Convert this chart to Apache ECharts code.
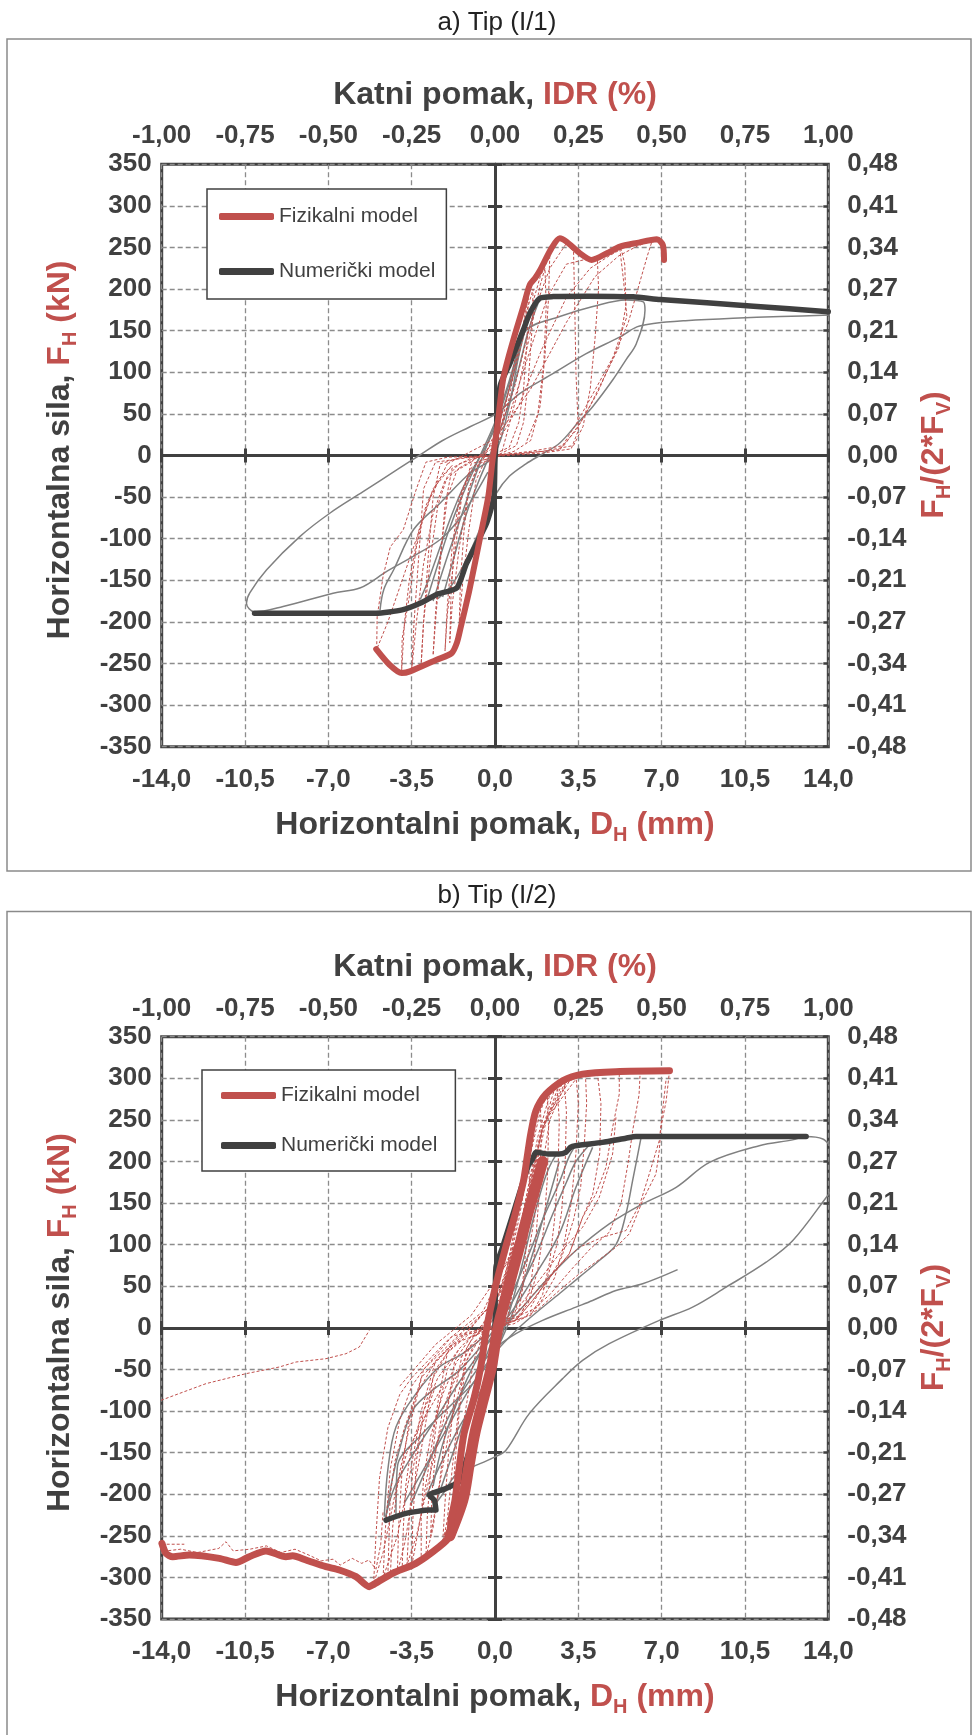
<!DOCTYPE html>
<html>
<head>
<meta charset="utf-8">
<title>Tip (I/1) i Tip (I/2)</title>
<script src="https://cdn.jsdelivr.net/npm/echarts@6.0.0/dist/echarts.min.js"></script>
<style>
html, body { margin: 0; padding: 0; background: #fff; }
#container { width: 978px; height: 1735px; }
</style>
</head>
<body>
<div id="container"></div>
<script>
var RED = '#C0504D', DARK = '#404040', GRAY = '#808080', GRIDC = '#8C8C8C';
var FONT = '"Liberation Sans", Arial, sans-serif';

// tick labels
var xTickLabels = ['-14,0', '-10,5', '-7,0', '-3,5', '0,0', '3,5', '7,0', '10,5', '14,0'];
var idrTickLabels = ['-1,00', '-0,75', '-0,50', '-0,25', '0,00', '0,25', '0,50', '0,75', '1,00'];
var ratioTickLabels = ['-0,48', '-0,41', '-0,34', '-0,27', '-0,21', '-0,14', '-0,07', '0,00',
  '0,07', '0,14', '0,21', '0,27', '0,34', '0,41', '0,48'];
var panelTitles = ['a) Tip (I/1)', 'b) Tip (I/2)'];
var legendNames = ['Fizikalni model', 'Numerički model'];

// ---- panel a : Tip (I/1) ----  [D_H mm, F_H kN]
var fizEnvA = [[-4.99,-232.7],[-4.43,-251.5],[-3.92,-261.5],[-3.57,-259.5],[-2.45,-245.5],[-1.82,-237.5],[-1.6,-225],[-1.46,-209],[-1.1,-165],[-0.84,-129],[-0.55,-88],[-0.28,-49],[-0.1,-5],[0.1,35],[0.35,93],[0.77,139],[1.19,179],[1.46,205],[1.68,213],[1.88,222],[2.37,249],[2.72,261],[3.0,257],[3.57,243],[4.06,235],[4.7,243],[5.25,251],[5.96,255.5],[6.8,260],[7.05,253],[7.1,235]];
var numEnvA = [[-10.1,-189.5],[-7,-189.5],[-5,-189.5],[-3.9,-185.5],[-3.1,-177],[-2.45,-167],[-1.6,-159],[-1.2,-130],[-0.35,-81],[-0.05,-50],[0,-5],[0.21,83],[0.63,111],[1.19,151],[1.46,171],[1.88,189],[2.44,191],[3.85,191.5],[5.8,190.7],[6.94,187.5],[10.86,179.5],[14,172.7]];
var fizCycA1 = [[-0.2,-5],[0.3,40],[0.8,110],[1.3,170],[1.6,200],[1.55,150],[1.4,90],[1.2,40],[0.9,12],[0.3,3],[-0.4,-5],[-0.8,-30],[-1.1,-90],[-1.35,-150],[-1.5,-200],[-1.45,-150],[-1.3,-90],[-1.1,-40],[-0.7,-10],[-0.2,-5]];
var fizCycA2 = [[-0.5,-5],[0.2,40],[0.8,100],[1.4,165],[1.9,215],[2.3,240],[2.25,190],[2.1,120],[1.9,60],[1.5,18],[0.8,5],[-0.2,-3],[-1.0,-10],[-1.4,-50],[-1.7,-120],[-2.0,-190],[-2.1,-235],[-2.0,-180],[-1.8,-110],[-1.5,-50],[-1.0,-15],[-0.5,-5]];
var fizCycA3 = [[-1.0,-8],[0,15],[0.8,80],[1.6,170],[2.3,225],[3.0,255],[3.3,245],[3.35,180],[3.4,100],[3.5,30],[3.2,8],[2.0,3],[0.5,0],[-1.0,-3],[-1.8,-15],[-2.1,-60],[-2.3,-130],[-2.5,-200],[-2.6,-240],[-2.5,-190],[-2.3,-120],[-2.0,-50],[-1.6,-18],[-1.0,-8]];
var fizCycA4 = [[-1.5,-10],[-0.5,0],[0.5,40],[1.4,120],[2.2,190],[3.0,230],[3.7,235],[4.3,237],[4.35,200],[4.2,140],[4.0,80],[3.7,35],[3.3,12],[2.0,5],[0,0],[-1.5,-3],[-2.3,-10],[-2.6,-50],[-2.8,-120],[-3.0,-200],[-3.1,-250],[-3.0,-200],[-2.7,-120],[-2.4,-60],[-2.0,-25],[-1.5,-10]];
var fizCycA5 = [[-1.5,-15],[0,10],[1.0,60],[2.0,130],[3.0,190],[4.0,225],[4.8,240],[5.3,248],[5.45,230],[5.5,180],[5.2,130],[4.6,95],[4.0,60],[3.4,30],[2.7,7],[1.0,2],[-1.0,-2],[-2.5,-8],[-3.0,-40],[-3.2,-120],[-3.4,-200],[-3.5,-258],[-3.3,-200],[-3.0,-130],[-2.6,-70],[-2.1,-30],[-1.5,-15]];
var fizCycA6 = [[-2,-10],[0,20],[1.5,80],[3.0,160],[4.2,215],[5.2,240],[6.0,252],[6.6,258],[6.4,240],[6.0,200],[5.6,160],[5.0,120],[4.3,75],[3.6,40],[2.9,12],[1.5,5],[0,0],[-2.0,-2],[-2.9,-8],[-3.3,-40],[-3.85,-89],[-4.4,-110],[-4.7,-145],[-4.95,-194],[-4.97,-233],[-4.5,-200],[-3.9,-150],[-3.3,-100],[-2.7,-50],[-2,-10]];
var fizCycA7 = [[-0.3,-8],[0.2,20],[0.6,70],[1.0,130],[1.3,175],[1.4,190],[1.35,140],[1.2,80],[1.0,40],[0.6,10],[0,2]];
var fizCycA8 = [[2.73,7],[3.43,39],[4.13,75],[4.97,119],[5.54,167],[5.4,210],[5.25,247]];
var fizCycA9 = [[-1.8,-12],[-2.4,-30],[-2.9,-60],[-3.3,-110],[-3.6,-170],[-3.9,-220],[-3.92,-258],[-3.8,-200],[-3.6,-150],[-3.2,-90],[-2.6,-40],[-1.8,-12]];
var fizCycA10 = [[0.3,5],[0.9,70],[1.5,150],[1.9,205],[2.1,225],[2.15,180],[2.05,110],[1.8,50],[1.3,15]];
var fizCycA11 = [[-0.6,-5],[-1.1,-40],[-1.5,-110],[-1.8,-180],[-1.9,-225],[-1.85,-170],[-1.7,-100],[-1.4,-45],[-0.9,-15]];
var numCycA1 = [[14.3,169],[12,167],[10,165],[8,162],[6.65,158.7],[5.96,154.6],[5.25,142.6],[3.85,122.7],[2.45,98.7],[1.05,74.7],[0.07,50.6],[-1.05,34.6],[-2.2,18],[-3.15,0.6],[-4.0,-15],[-5.54,-43.5],[-6.94,-69.4],[-8.2,-97.5],[-9.6,-137.5],[-10.3,-165],[-10.44,-177.5],[-10.1,-188],[-8.9,-181.5],[-6.8,-165.5],[-5.65,-159],[-4.53,-139],[-3.42,-121],[-2.3,-101],[-1.6,-80],[-0.9,-50],[-0.3,-20]];
var numCycA2 = [[-4.83,-186],[-4.67,-161],[-4.25,-137],[-3.42,-89],[-2.3,-57],[-1.05,-21],[-0.07,-1],[0.6,60],[1.0,120],[1.32,151],[2.72,167],[4.11,179],[5.5,187],[6.23,184.7],[6.3,174.7],[5.94,134.7],[5.5,115],[4.95,91],[4.11,59],[3.5,40],[2.72,15],[2.0,2],[1.3,-10],[0.6,-25],[0.07,-45],[-0.5,-80],[-1.2,-125],[-1.8,-155],[-2.4,-172]];
var numCycA3 = [[-2.9,-177],[-2.5,-140],[-2.0,-95],[-1.4,-50],[-0.7,-5],[0,40],[0.6,90],[1.1,140],[1.45,170]];
var numCycA4 = [[-2.6,-175],[-2.1,-130],[-1.5,-80],[-0.9,-30],[-0.3,15],[0.3,60],[0.9,115],[1.3,155],[1.6,178]];
var numCycA5 = [[-3.14,-173],[-2.8,-150],[-2.44,-121],[-1.8,-70],[-1.2,-30],[-0.5,5],[0.2,45],[0.8,100],[1.25,150]];
var numCycA6 = [[-2.2,-170],[-1.7,-120],[-1.2,-70],[-0.6,-25],[0,15],[0.5,55],[1.0,105],[1.4,150],[1.8,182]];

// ---- panel b : Tip (I/2) ----
var fizEnvB = [[-13.99,-259],[-13.82,-271],[-13.54,-275],[-12.84,-273],[-11.58,-277],[-10.88,-282],[-10.32,-275],[-9.62,-268],[-8.78,-275],[-8.5,-274],[-7.94,-279],[-7.1,-287],[-6.54,-291],[-5.84,-299],[-5.28,-311],[-5.14,-309],[-4.3,-295],[-3.32,-283],[-2.34,-263],[-1.92,-251],[-1.85,-231],[-1.68,-207],[-1.5,-167],[-1.3,-127],[-0.9,-87],[-0.6,-47],[-0.35,0],[0,47],[0.45,97],[0.85,137],[1.2,177],[1.35,205],[1.5,233],[1.72,261],[2.14,281],[2.84,297],[3.68,305],[5.08,308],[7.33,309]];
var fizBandB = [[-1.9,-250],[-1.35,-207],[-1.1,-167],[-0.85,-127],[-0.5,-87],[-0.15,-47],[0.12,0],[0.55,47],[1.02,97],[1.38,137],[1.78,177],[2.0,200]];
var numEnvB = [[-4.58,-231],[-3.74,-223],[-2.76,-219],[-2.48,-219],[-2.55,-207],[-2.76,-201],[-2.06,-193],[-1.43,-183],[-1.29,-167],[-0.94,-135],[-0.52,-95],[-0.24,-59],[-0.03,-47],[0,0],[0.04,73],[0.32,97],[0.9,150],[1.4,195],[1.58,203],[1.72,211],[2.28,209],[2.7,209],[2.97,211],[3.17,217],[3.38,219],[4.51,223],[5.5,228],[5.92,230],[13.07,230]];
var fizCycB1 = [[-0.4,-10],[0.2,30],[0.7,100],[1.1,160],[1.4,215],[1.45,170],[1.35,110],[1.15,50],[0.8,15],[0.2,3],[-0.5,-8],[-0.9,-40],[-1.3,-110],[-1.6,-180],[-1.8,-230],[-1.7,-170],[-1.5,-100],[-1.2,-40],[-0.8,-15],[-0.4,-10]];
var fizCycB2 = [[-1.0,-15],[-0.2,10],[0.5,70],[1.0,140],[1.5,220],[1.9,272],[1.95,230],[1.85,160],[1.7,100],[1.5,50],[1.1,15],[0.2,5],[-0.8,-5],[-1.2,-25],[-1.5,-90],[-1.8,-170],[-2.0,-230],[-2.2,-260],[-2.1,-210],[-1.95,-150],[-1.7,-80],[-1.4,-35],[-1.0,-15]];
var fizCycB3 = [[-1.5,-25],[-0.5,5],[0.5,60],[1.2,140],[1.8,230],[2.3,280],[2.6,292],[2.7,250],[2.65,190],[2.5,130],[2.3,80],[2.0,40],[1.5,15],[0.3,5],[-1.0,-10],[-1.7,-40],[-2.0,-100],[-2.3,-180],[-2.6,-240],[-2.9,-275],[-2.85,-230],[-2.7,-170],[-2.4,-100],[-2.0,-50],[-1.5,-25]];
var fizCycB4 = [[-2.0,-30],[-1.0,0],[0.3,45],[1.2,130],[1.9,230],[2.6,285],[3.0,300],[3.4,303],[3.5,270],[3.4,210],[3.2,150],[2.9,100],[2.5,60],[1.8,25],[0.5,8],[-1.0,-5],[-2.0,-30],[-2.4,-90],[-2.8,-170],[-3.2,-240],[-3.5,-286],[-3.45,-230],[-3.3,-160],[-3.0,-100],[-2.5,-50],[-2.0,-30]];
var fizCycB5 = [[-2.5,-40],[-1.2,-5],[0.2,40],[1.2,130],[2.0,240],[2.8,292],[3.6,304],[4.3,306],[4.45,270],[4.4,210],[4.1,160],[3.68,133],[3.12,89],[2.42,65],[1.58,33],[0.88,9],[-0.5,-5],[-1.8,-20],[-2.6,-60],[-3.0,-130],[-3.5,-210],[-3.8,-260],[-4.1,-294],[-4.05,-240],[-3.9,-170],[-3.6,-110],[-3.1,-60],[-2.5,-40]];
var fizCycB6 = [[-3,-50],[-1.5,-8],[0,30],[1.3,140],[2.2,255],[3.2,300],[4.3,306],[5.22,305],[5.22,281],[4.94,241],[4.66,193],[4.24,161],[3.68,133],[3.12,89],[2.42,65],[1.58,33],[0.88,9],[0,0],[-1.5,-10],[-2.5,-40],[-3.1,-100],[-3.6,-180],[-4.1,-250],[-4.7,-300],[-4.6,-240],[-4.4,-170],[-4.0,-110],[-3.5,-70],[-3,-50]];
var fizCycB7 = [[-3.5,-60],[-2,-15],[-0.5,20],[1.0,110],[2.0,240],[3.0,298],[4.5,307],[6.1,309],[6.05,280],[5.8,240],[5.6,200],[5.3,150],[4.8,115],[4.0,95],[3.2,70],[2.3,40],[1.2,12],[0,2],[-1.8,-10],[-3.0,-50],[-3.6,-120],[-4.2,-200],[-4.7,-270],[-5.1,-308],[-5.0,-250],[-4.85,-180],[-4.5,-120],[-4.0,-80],[-3.5,-60]];
var fizCycB8 = [[-4,-70],[-2.5,-20],[-1,15],[0.8,90],[2.0,245],[3.5,303],[5,308],[7.33,309],[7.19,273],[6.97,241],[6.9,213],[6.76,185],[6.48,169],[6.2,153],[5.92,133],[5.64,113],[5.08,97],[4.52,85],[3.54,65],[2.7,45],[1.8,22],[0.8,5],[-0.5,-2]];
var fizCycB9 = [[7.18,297],[6.9,225],[6.48,185],[6.1,150],[5.5,117],[4.52,109],[3.54,97],[2.7,75],[1.9,50],[1.0,20],[0,0]];
var fizCycB10 = [[5.08,253],[4.94,209],[4.38,157],[3.68,121],[2.7,89],[1.8,55],[1.0,25],[0.2,5]];
var fizCycB11 = [[-14.03,-87],[-12.14,-67],[-10.46,-55],[-9.06,-47],[-8.36,-41],[-7.1,-37],[-6.26,-31],[-5.7,-23],[-5.28,-3]];
var fizCycB12 = [[-14,-260],[-13.8,-268],[-13.2,-266],[-12.5,-270],[-11.6,-265],[-11.3,-257],[-11.0,-268],[-10.3,-266],[-9.6,-262],[-9.0,-270],[-8.4,-266],[-7.9,-272],[-7.3,-280],[-6.8,-278],[-6.5,-285],[-6.0,-277],[-5.6,-283],[-5.3,-279],[-5.0,-290],[-4.8,-260],[-4.7,-220]];
var fizCycB13 = [[-14,-260],[-13.05,-260]];
var fizCycB14 = [[-4.5,-298],[-4.45,-250],[-4.4,-200],[-4.2,-160],[-3.8,-120],[-3.3,-80],[-2.6,-45],[-1.8,-20]];
var fizCycB15 = [[-3.9,-292],[-3.85,-240],[-3.75,-190],[-3.5,-140],[-3.0,-100],[-2.4,-60],[-1.5,-25]];
var fizCycB16 = [[-3.1,-280],[-3.1,-230],[-3.0,-180],[-2.7,-130],[-2.2,-80],[-1.6,-40],[-0.8,-15]];
var fizCycB17 = [[-0.8,-10],[0.3,40],[1.0,130],[1.5,210],[1.9,260],[2.2,282],[2.25,240],[2.2,180],[2.05,120],[1.8,70],[1.4,30],[0.8,8]];
var fizCycB18 = [[0.5,10],[1.3,120],[1.9,230],[2.5,287],[2.9,298],[3.0,260],[2.95,200],[2.8,140],[2.6,100],[2.2,60],[1.5,25]];
var fizCycB19 = [[1.0,20],[1.7,140],[2.3,250],[3.0,296],[3.8,304],[3.85,270],[3.75,220],[3.6,170],[3.3,130],[2.8,85],[2.0,45]];
var fizCycB20 = [[-0.5,-5],[-1.2,-40],[-1.9,-120],[-2.4,-200],[-2.7,-250],[-2.65,-200],[-2.5,-150],[-2.2,-100],[-1.6,-50]];
var fizCycB21 = [[-1.0,-20],[-1.8,-70],[-2.6,-160],[-3.3,-250],[-3.7,-285],[-3.6,-230],[-3.45,-170],[-3.1,-120],[-2.5,-70]];
var fizCycB22 = [[-4.4,-300],[-4.3,-240],[-4.1,-190],[-3.7,-150],[-3.0,-110],[-2.2,-70]];
var numCycB1 = [[14.3,210],[14.13,217],[13.77,227],[13.07,230],[12.5,226],[11.1,219],[9.01,199],[7.61,169],[6.2,149],[4.8,125],[3.4,93],[2.14,57],[1.16,25],[0.4,2],[-0.5,-25],[-1.5,-65],[-2.5,-110],[-3.4,-150],[-4.2,-190],[-4.6,-228]];
var numCycB2 = [[14.3,170],[14.13,165],[12.51,105],[11.39,79],[9.71,49],[8.3,25],[6.9,9],[4.8,-19],[3.68,-39],[2.84,-61],[1.44,-103],[0.46,-147],[0,-155],[-0.94,-167],[-1.6,-175],[-2.2,-200],[-2.6,-215]];
var numCycB3 = [[7.67,70],[6.2,53],[5.08,45],[4.1,33],[3.4,25],[2.0,9],[0.88,-7],[0,-25],[-1.0,-60],[-2.0,-110],[-2.9,-170],[-3.5,-210]];
var numCycB4 = [[6.13,228],[5.78,177],[5.5,137],[5.08,100],[4.38,81],[3.54,61],[2.7,41],[1.8,20],[1.0,0],[0,-30],[-1.0,-70],[-2.0,-120],[-3.0,-170],[-3.8,-210]];
var numCycB5 = [[-4.65,-227],[-4.5,-170],[-4.16,-119],[-3.32,-79],[-2.34,-47],[-1.36,-31],[-0.38,-7],[0.5,30],[1.3,80],[2.0,130],[2.7,175],[3.1,205],[3.38,219]];
var numCycB6 = [[-4.58,-227],[-4.3,-180],[-4.02,-147],[-3.46,-99],[-2.62,-75],[-1.5,-51],[-0.38,-15],[0.6,25],[1.6,80],[2.4,135],[3.0,175],[3.4,200],[4.03,222]];
var numCycB7 = [[-2.9,-203],[-2.34,-167],[-1.5,-119],[-0.8,-87],[-0.2,-50],[0.4,0],[1.0,60],[1.6,130],[2.1,180],[2.5,205],[2.8,211]];
var numCycB8 = [[-4.16,-225],[-4.1,-167],[-3.04,-127],[-1.64,-87],[-0.94,-67],[0,-30],[0.9,30],[1.7,100],[2.3,160],[2.7,200]];
var numCycB9 = [[4.1,217],[3.4,169],[2.7,113],[1.72,65],[0.74,21],[0,-5],[-0.8,-40],[-1.6,-90],[-2.2,-140],[-2.6,-190]];
var numCycB10 = [[-2.5,-212],[-2.0,-170],[-1.4,-120],[-0.7,-60],[0,-5],[0.6,50],[1.2,120],[1.7,180],[1.9,205]];

var panels = [
  { top: 164.3, dy: 0, fiz: fizEnvA, band: null, num: numEnvA,
    fizCycles: [fizCycA1, fizCycA2, fizCycA3, fizCycA4, fizCycA5, fizCycA6, fizCycA7, fizCycA8, fizCycA9, fizCycA10, fizCycA11],
    numCycles: [numCycA1, numCycA2, numCycA3, numCycA4, numCycA5, numCycA6],
    legend: { left: 207, top: 189, padding: [17, 11, 17, 12], gap: 34 }, fizWidth: 6 },
  { top: 1036.7, dy: 872.6, fiz: fizEnvB, band: fizBandB, num: numEnvB,
    fizCycles: [fizCycB1, fizCycB2, fizCycB3, fizCycB4, fizCycB5, fizCycB6, fizCycB7, fizCycB8, fizCycB9, fizCycB10, fizCycB11,
      fizCycB12, fizCycB13, fizCycB14, fizCycB15, fizCycB16, fizCycB17, fizCycB18, fizCycB19, fizCycB20, fizCycB21, fizCycB22],
    numCycles: [numCycB1, numCycB2, numCycB3, numCycB4, numCycB5, numCycB6, numCycB7, numCycB8, numCycB9, numCycB10],
    legend: { left: 202, top: 1070, padding: [15, 18, 15, 19], gap: 29 }, fizWidth: 7 }
];

var tickFont = { fontSize: 26, fontWeight: 'bold', color: DARK, fontFamily: FONT };

function zeroX(i, yIdx, inside) {
  return { type: 'value', gridIndex: i, position: 'bottom', min: -14, max: 14, interval: 3.5,
    axisLine: { show: true, onZero: true, onZeroAxisIndex: yIdx, lineStyle: { color: DARK, width: 3 } },
    axisTick: { show: true, inside: inside, length: 7, lineStyle: { color: DARK, width: 3 } },
    axisLabel: { show: false }, splitLine: { show: false } };
}
function zeroY(i, xIdx, inside) {
  return { type: 'value', gridIndex: i, position: 'left', min: -350, max: 350, interval: 50,
    axisLine: { show: true, onZero: true, onZeroAxisIndex: xIdx, lineStyle: { color: DARK, width: 3 } },
    axisTick: { show: true, inside: inside, length: 7, lineStyle: { color: DARK, width: 3 } },
    axisLabel: { show: false }, splitLine: { show: false } };
}
function lineSeries(name, data, xi, yi, style, z, smooth) {
  return { type: 'line', name: name, xAxisIndex: xi, yAxisIndex: yi, data: data,
    showSymbol: false, symbol: 'none', smooth: smooth, silent: true, z: z,
    itemStyle: { color: style.color }, lineStyle: style };
}
function richTitle(x, y, text, rich, rot) {
  return { type: 'text', x: x, y: y, rotation: rot || 0, silent: true, z: 20,
    style: { text: text, rich: rich, align: 'center', verticalAlign: 'middle' } };
}
function tok(color, size, sub) {
  var t = { fontSize: size, fontWeight: 'bold', fontFamily: FONT, fill: color, color: color, lineHeight: sub ? size : 40 };
  if (sub) t.verticalAlign = 'bottom';
  return t;
}
var titleRich = { d: tok(DARK, 32), r: tok(RED, 32), s: tok(RED, 20, true) };

var option = { animation: false, backgroundColor: '#fff', grid: [], xAxis: [], yAxis: [], series: [], legend: [], graphic: [] };

panels.forEach(function (p, i) {
  var xb = option.xAxis.length, yb = option.yAxis.length;
  option.grid.push({ left: 161.7, top: p.top, width: 666.6, height: 582.4, show: true,
    borderColor: DARK, borderWidth: 3, backgroundColor: 'transparent', containLabel: false, outerBoundsMode: 'none' });

  option.xAxis.push(
    { type: 'value', gridIndex: i, position: 'bottom', min: -14, max: 14, interval: 3.5,
      axisLine: { show: false, onZero: false }, axisTick: { show: false },
      axisLabel: Object.assign({ margin: 20, formatter: function (v) { return xTickLabels[Math.round((v + 14) / 3.5)]; } }, tickFont),
      splitLine: { show: true, lineStyle: { color: GRIDC, width: 1.3, type: [5, 3] } } },
    { type: 'value', gridIndex: i, position: 'top', min: -1, max: 1, interval: 0.25,
      axisLine: { show: false, onZero: false }, axisTick: { show: false },
      axisLabel: Object.assign({ margin: 15, formatter: function (v) { return idrTickLabels[Math.round((v + 1) / 0.25)]; } }, tickFont),
      splitLine: { show: false } },
    zeroX(i, yb, false), zeroX(i, yb, true)
  );
  option.yAxis.push(
    { type: 'value', gridIndex: i, position: 'left', min: -350, max: 350, interval: 50,
      axisLine: { show: false, onZero: false }, axisTick: { show: false },
      axisLabel: Object.assign({ margin: 10 }, tickFont),
      splitLine: { show: true, lineStyle: { color: GRIDC, width: 1.3, type: [5, 3] } } },
    { type: 'value', gridIndex: i, position: 'right', min: -350, max: 350, interval: 50,
      axisLine: { show: false, onZero: false },
      axisTick: { show: true, inside: true, length: 5, lineStyle: { color: DARK, width: 2.5 } },
      axisLabel: Object.assign({ margin: 19, formatter: function (v) { return ratioTickLabels[Math.round((v + 350) / 50)]; } }, tickFont),
      splitLine: { show: false } },
    zeroY(i, xb, false), zeroY(i, xb, true)
  );

  p.numCycles.forEach(function (c, k) {
    option.series.push(lineSeries('num' + i + '_' + k, c, xb, yb, { color: GRAY, width: 1.5 }, 2, 0.35));
  });
  p.fizCycles.forEach(function (c, k) {
    option.series.push(lineSeries('fiz' + i + '_' + k, c, xb, yb, { color: RED, width: 1, type: [3, 2] }, 3, false));
  });
  option.series.push(lineSeries(legendNames[1], p.num, xb, yb, { color: DARK, width: 5.5, cap: 'round', join: 'round' }, 4, 0.2));
  if (p.band) {
    option.series.push(lineSeries('band' + i, p.band, xb, yb, { color: RED, width: 11, cap: 'round', join: 'round' }, 5, 0.3));
  }
  option.series.push(lineSeries(legendNames[0], p.fiz, xb, yb, { color: RED, width: p.fizWidth, cap: 'round', join: 'round' }, 5, 0.25));

  option.legend.push({ show: true, orient: 'vertical', left: p.legend.left, top: p.legend.top,
    padding: p.legend.padding, itemGap: p.legend.gap, itemWidth: 55, itemHeight: 7,
    backgroundColor: '#fff', borderColor: DARK, borderWidth: 1.5, selectedMode: false, z: 10,
    data: [{ name: legendNames[0], icon: 'roundRect' }, { name: legendNames[1], icon: 'roundRect' }],
    textStyle: { fontSize: 21, color: DARK, fontFamily: FONT } });

  var dy = p.dy;
  option.graphic.push(
    { type: 'rect', silent: true, z: 0, shape: { x: 7, y: 39 + dy, width: 964, height: 832 },
      style: { fill: 'rgba(0,0,0,0)', stroke: '#8A8A8A', lineWidth: 1.5 } },
    { type: 'text', x: 497, y: 23 + dy, silent: true,
      style: { text: panelTitles[i], fontSize: 26, fontFamily: FONT, fill: '#222', align: 'center', verticalAlign: 'middle' } },
    richTitle(495, 95 + dy, '{d|Katni pomak, }{r|IDR (%)}', titleRich),
    richTitle(495, 825 + dy, '{d|Horizontalni pomak, }{r|D}{s|H}{r| (mm)}', titleRich),
    richTitle(60, 450 + dy, '{d|Horizontalna sila, }{r|F}{s|H}{r| (kN)}', titleRich, Math.PI / 2),
    richTitle(934, 455 + dy, '{r|F}{s|H}{r|/(2*F}{s|V}{r|)}', titleRich, Math.PI / 2)
  );
});

var chart = echarts.init(document.getElementById('container'));
chart.setOption(option);
</script>
</body>
</html>
